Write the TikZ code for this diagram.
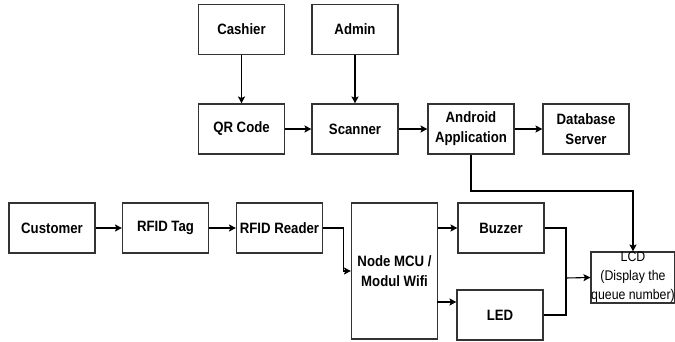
\documentclass[tikz,border=0pt]{standalone}
\usepackage{fontspec}
\setmainfont{Liberation Sans}[FakeStretch=0.88]
\usepackage{tikz}
\usetikzlibrary{arrows.meta}

\begin{document}
\begin{tikzpicture}[x=1pt, y=-1pt, line width=1.1pt,
  >={Stealth[length=7pt, width=7pt, inset=1.5pt]},
  box/.style={draw=black!80, minimum width=86pt, minimum height=50pt, inner sep=0pt,
    align=center, font=\fontsize{15}{20}\selectfont\bfseries},
  lcdbox/.style={draw=black!80, minimum width=84pt, minimum height=51pt, inner sep=0pt,
    align=center, font=\fontsize{14}{19}\selectfont}]
\useasboundingbox (0,0) rectangle (675,342);

% top part
\node[box] (cashier) at (241.5,29.5) {Cashier};
\node[box] (admin) at (355,29.5) {Admin};
\node[box] (qr) at (241.5,129) {QR Code};
\node[box] (scanner) at (355,129) {Scanner};
\node[box] (android) at (471,129) {Android\\Application};
\node[box] (database) at (586,129) {Database\\Server};

% bottom part
\node[box] (customer) at (52,228) {Customer};
\node[box] (tag) at (165.5,228) {RFID Tag};
\node[box] (reader) at (279.5,228) {RFID Reader};
\node[box, minimum height=136pt] (mcu) at (394.5,271) {Node MCU /\\Modul Wifi};
\node[box] (buzzer) at (501,228) {Buzzer};
\node[box] (led) at (500,315) {LED};
\node[lcdbox] (lcd) at (633,277.5) {LCD\\(Display the\\queue number)};

\coordinate (bend) at (633,191);
\coordinate (join) at (566,278);
\coordinate (ledin) at (437,302);

\draw[->] (cashier) -- (qr);
\draw[->] (admin) -- (scanner);
\draw[->] (qr) -- (scanner);
\draw[->] (scanner) -- (android);
\draw[->] (android) -- (database);
\draw[->] (android.south) |- (bend) -- (lcd.north);

\draw[->] (customer) -- (tag);
\draw[->] (tag) -- (reader);
\draw[->] (reader.east) -- ++(20,0) |- (mcu.west);
\draw[->] (mcu.east |- buzzer.west) -- (buzzer.west);
\draw[->] (ledin) -- (led.west |- ledin);
\draw (buzzer.east) -| (join) |- (led.east);
\draw[->] (join) -- (lcd.west);
\end{tikzpicture}
\end{document}
